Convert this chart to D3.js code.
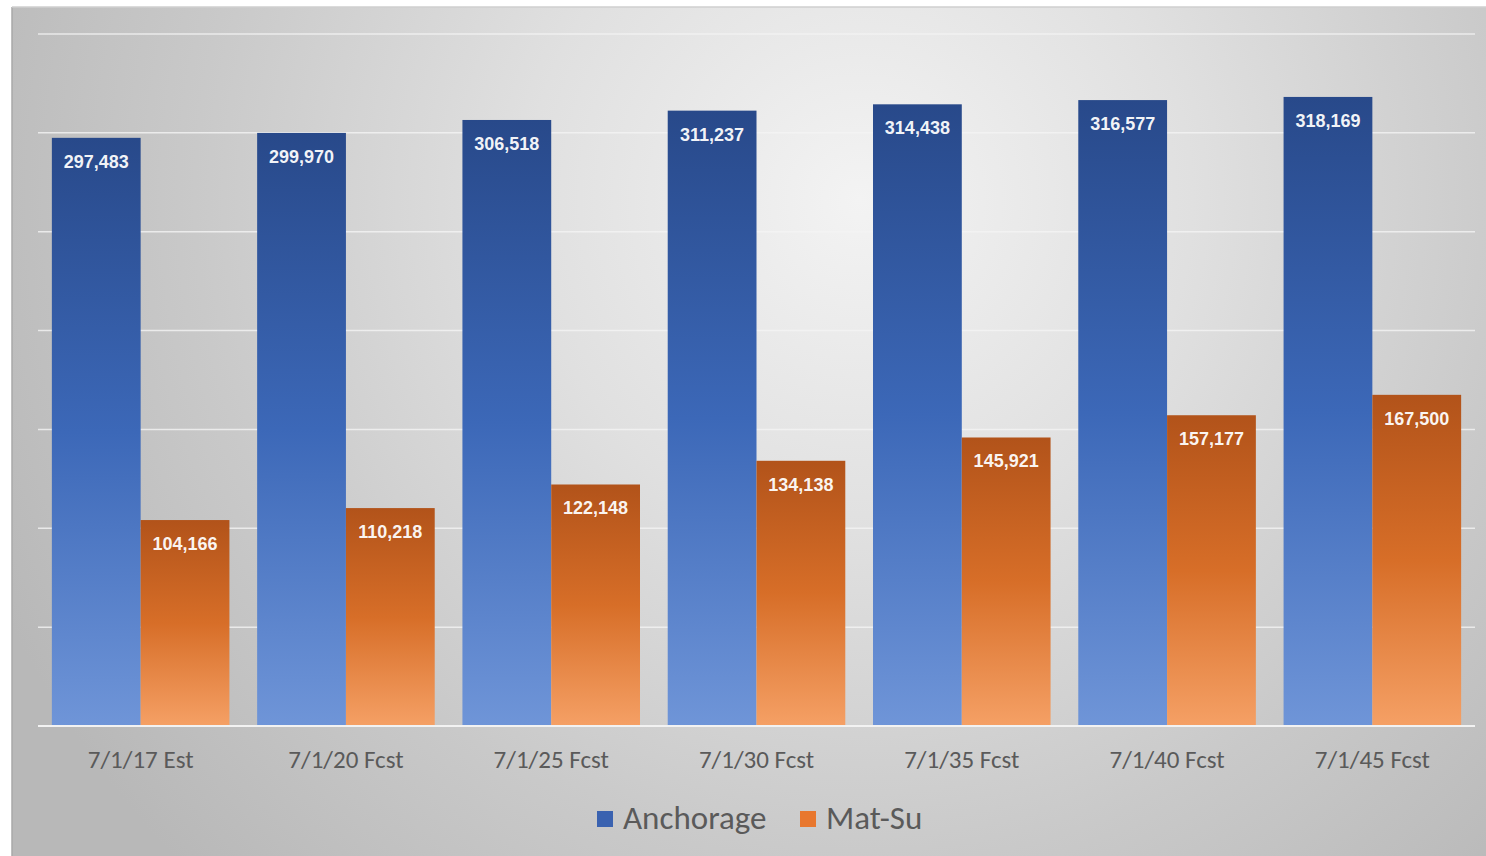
<!DOCTYPE html>
<html>
<head>
<meta charset="utf-8">
<script src="https://cdn.jsdelivr.net/npm/d3@7"></script>
<style>
  html, body { margin: 0; padding: 0; background: #ffffff; }
  svg { display: block; }
</style>
</head>
<body>
<svg id="chart" width="1486" height="856"></svg>
<script>
// Population estimate and forecasts, Anchorage vs. Mat-Su
const categories = ["7/1/17 Est", "7/1/20 Fcst", "7/1/25 Fcst", "7/1/30 Fcst", "7/1/35 Fcst", "7/1/40 Fcst", "7/1/45 Fcst"];
const seriesNames = ["Anchorage", "Mat-Su"];
const anchorage = [297483, 299970, 306518, 311237, 314438, 316577, 318169];
const matSu = [104166, 110218, 122148, 134138, 145921, 157177, 167500];
const yTicks = [0, 50000, 100000, 150000, 200000, 250000, 300000, 350000];

const W = 1486, H = 856;
const svg = d3.select("#chart");
const defs = svg.append("defs");

// Chart-area background: light glow near the top centre fading to grey
const bg = defs.append("radialGradient").attr("id", "bgGrad")
  .attr("gradientUnits", "userSpaceOnUse")
  .attr("cx", 860).attr("cy", 200).attr("r", 950);
bg.append("stop").attr("offset", "0").attr("stop-color", "#f3f3f3");
bg.append("stop").attr("offset", "0.35").attr("stop-color", "#e0e0e0");
bg.append("stop").attr("offset", "0.7").attr("stop-color", "#c9c9c9");
bg.append("stop").attr("offset", "1").attr("stop-color", "#b8b8b8");

// Bar fills: dark at the top, lighter toward the baseline
function barGradient(id, top, mid, bottom) {
  const g = defs.append("linearGradient").attr("id", id)
    .attr("x1", 0).attr("y1", 0).attr("x2", 0).attr("y2", 1);
  g.append("stop").attr("offset", "0").attr("stop-color", top);
  g.append("stop").attr("offset", "0.5").attr("stop-color", mid);
  g.append("stop").attr("offset", "1").attr("stop-color", bottom);
}
barGradient("gradA", "#28498a", "#3c68b8", "#6f95d8");
barGradient("gradM", "#b2531a", "#d76e28", "#f5a065");

// Frame
svg.append("rect").attr("x", 12).attr("y", 7).attr("width", W - 12).attr("height", H - 7)
  .attr("fill", "url(#bgGrad)");
svg.append("line").attr("x1", 12).attr("x2", 12).attr("y1", 7).attr("y2", H)
  .attr("stroke", "#a8a8a8").attr("stroke-width", 1.5);
svg.append("line").attr("x1", 12).attr("x2", W).attr("y1", 7).attr("y2", 7)
  .attr("stroke", "#cfcfcf").attr("stroke-width", 1.5);

const plot = { left: 38, right: 1475, top: 34, bottom: 726 };

const x0 = d3.scaleBand().domain(categories)
  .range([plot.left, plot.right]).paddingInner(0.135).paddingOuter(0.0675);
const x1 = d3.scaleBand().domain(seriesNames).range([0, x0.bandwidth()]);
const y = d3.scaleLinear().domain([0, 350000]).range([plot.bottom, plot.top]);

// Gridlines
const grid = svg.append("g").attr("class", "grid");
grid.selectAll("line").data(yTicks.slice(1)).join("line")
  .attr("x1", plot.left).attr("x2", plot.right)
  .attr("y1", d => y(d)).attr("y2", d => y(d))
  .attr("stroke", "#f4f4f4").attr("stroke-opacity", 0.8).attr("stroke-width", 1.5);

const rows = categories.map((c, i) => ({ cat: c, values: [anchorage[i], matSu[i]] }));
const fills = ["url(#gradA)", "url(#gradM)"];

const groups = svg.append("g").selectAll("g").data(rows).join("g")
  .attr("transform", d => `translate(${x0(d.cat)},0)`);

groups.selectAll("rect").data(d => d.values.map((v, k) => ({ k, v }))).join("rect")
  .attr("x", d => x1(seriesNames[d.k]))
  .attr("y", d => y(d.v))
  .attr("width", x1.bandwidth())
  .attr("height", d => y(0) - y(d.v))
  .attr("fill", d => fills[d.k]);

// Value labels inside the bar tops
const fmt = d3.format(",");
groups.selectAll("text").data(d => d.values.map((v, k) => ({ k, v }))).join("text")
  .attr("x", d => x1(seriesNames[d.k]) + x1.bandwidth() / 2)
  .attr("y", d => y(d.v) + 30)
  .attr("text-anchor", "middle")
  .attr("font-family", "'Liberation Sans', Arial, sans-serif")
  .attr("font-weight", "bold")
  .attr("font-size", 18)
  .attr("fill", "#ffffff")
  .attr("fill-opacity", 0.95)
  .text(d => fmt(d.v));

// Category axis
const xAxis = svg.append("g").attr("transform", `translate(0,${plot.bottom})`)
  .call(d3.axisBottom(x0).tickSize(0).tickPadding(24));
xAxis.select(".domain").attr("stroke", "#f2f2f2").attr("stroke-width", 2)
  .attr("d", `M${plot.left},0H${plot.right}`);
xAxis.selectAll("text")
  .attr("font-family", "Carlito, Lato, 'Open Sans', sans-serif")
  .attr("font-size", 25).attr("fill", "#5a5a5a");

// Legend
const legendItems = [
  { name: "Anchorage", color: "#3a62b0", x: 597 },
  { name: "Mat-Su", color: "#e8772e", x: 800 }
];
const legend = svg.append("g").selectAll("g").data(legendItems).join("g")
  .attr("transform", d => `translate(${d.x},811)`);
legend.append("rect").attr("width", 16).attr("height", 16).attr("fill", d => d.color);
legend.append("text").attr("x", 26).attr("y", 18)
  .attr("font-family", "Carlito, Lato, 'Open Sans', sans-serif")
  .attr("font-size", 33).attr("fill", "#5a5a5a")
  .text(d => d.name);
</script>
</body>
</html>
